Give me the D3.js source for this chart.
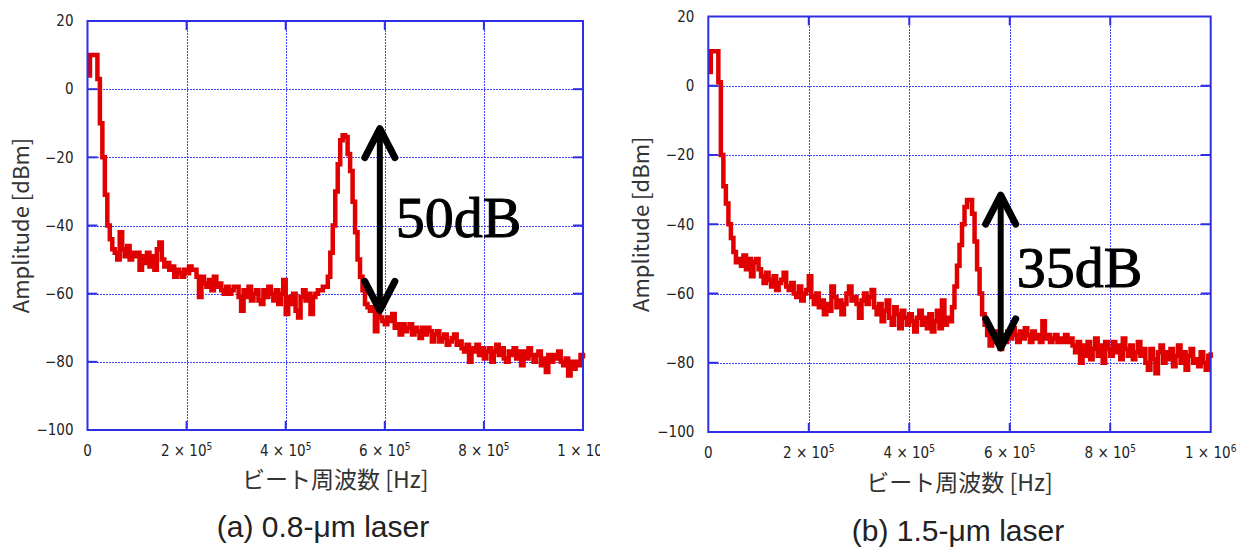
<!DOCTYPE html>
<html>
<head>
<meta charset="utf-8">
<script src="https://cdn.jsdelivr.net/npm/d3@7"></script>
<style>
    body { margin: 0; background: #fff; }
    svg { display: block; }
</style>
</head>
<body>
<svg id="chart" width="1249" height="548"></svg>
<script>
// Frequency grid (Hz): one reading every 5 kHz from 0 to 1 MHz
var freqStep = 5000;

// Amplitude [dBm], 0.8-um laser (20 values per row = 100 kHz)
var amp08 = [
    4, 10, 10, 10, 3, -10, -20, -31, -40, -44, -47, -48, -50, -42, -47, -49, -46, -50, -48, -49,
    -48, -53, -49, -51, -48, -52, -49, -53, -47, -45, -50, -52, -51, -53, -52, -55, -53, -54, -55, -53,
    -54, -52, -53, -53, -55, -61, -55, -57, -58, -56, -59, -55, -58, -57, -59, -60, -58, -60, -59, -58,
    -58, -61, -65, -59, -61, -58, -62, -60, -59, -62, -63, -59, -61, -58, -60, -62, -59, -63, -60, -56,
    -66, -61, -63, -60, -65, -67, -61, -59, -62, -60, -66, -61, -60, -59, -59, -58, -58, -55, -48, -40,
    -30, -22, -15, -13.5, -14, -19, -24, -33, -42, -50, -55, -59, -63, -64, -65, -64, -71, -66, -67, -68,
    -69, -67, -68, -66, -70, -69, -72, -69, -71, -70, -69, -72, -70, -71, -73, -70, -72, -70, -71, -74,
    -72, -71, -74, -73, -72, -75, -74, -73, -72, -75, -74, -76, -77, -75, -80, -76, -77, -75, -78, -76,
    -79, -77, -76, -80, -77, -75, -78, -76, -79, -80, -77, -78, -76, -79, -77, -81, -77, -79, -76, -78,
    -80, -78, -77, -81, -79, -83, -78, -80, -78, -79, -77, -80, -81, -79, -84, -80, -82, -80, -81, -78,
    -79
];

// Amplitude [dBm], 1.5-um laser
var amp15 = [
    4, 10, 10, 10, 1, -20, -29, -34, -40, -44, -48, -51, -50, -52, -49, -53, -50, -55, -51, -50,
    -53, -55, -57, -54, -56, -58, -55, -59, -57, -56, -54, -58, -59, -57, -60, -61, -58, -62, -60, -59,
    -55, -61, -63, -60, -64, -62, -66, -63, -65, -58, -61, -64, -62, -66, -63, -60, -58, -62, -61, -63,
    -67, -62, -60, -63, -61, -59, -64, -66, -63, -68, -65, -62, -67, -69, -64, -66, -70, -65, -67, -69,
    -66, -68, -71, -67, -65, -69, -67, -70, -66, -71, -68, -65, -70, -62, -69, -67, -68, -64, -58, -52,
    -46, -40, -35, -33, -33, -37, -45, -53, -60, -66, -69, -72, -75, -72, -74, -71, -76, -72, -74, -71,
    -73, -70, -72, -74, -71, -73, -70, -72, -74, -71, -73, -72, -74, -68, -73, -72, -74, -73, -72, -74,
    -73, -74, -72, -74, -73, -75, -77, -74, -80, -75, -78, -74, -79, -76, -73, -78, -75, -80, -74, -76,
    -78, -74, -77, -75, -79, -73, -76, -78, -75, -79, -77, -74, -78, -76, -80, -82, -76, -79, -83, -77,
    -75, -80, -77, -79, -76, -81, -78, -75, -80, -77, -82, -78, -76, -80, -79, -81, -77, -80, -82, -78,
    -77
];

// Axis ticks
var yTicks = [20, 0, -20, -40, -60, -80, -100];
var xTicks = [0, 2e5, 4e5, 6e5, 8e5, 1e6];
var xTickMant = ["0", "2", "4", "6", "8", "1"];
var xTickExp = ["", "5", "5", "5", "5", "6"];

// Annotation arrows: frequency, top and bottom (dBm), label and its baseline (dBm)
var arrowFreq = [590e3, 582e3];
var arrowTop = [-11, -31];
var arrowBottom = [-65.5, -76.3];
var arrowLabel = ["50dB", "35dB"];
var arrowLabelY = [-43.3, -58.1];

var captions = ["(a) 0.8-\u03bcm laser", "(b) 1.5-\u03bcm laser"];

// Panel placement
var panels = [
    {data: amp08, left: 87.5, right: 583, top: 21, bottom: 430, clip: [0, 600],
     yTitleX: 21, xTitleY: 488, capX: 323, capY: 537},
    {data: amp15, left: 708.3, right: 1210.7, top: 16.5, bottom: 432, clip: [600, 1249],
     yTitleX: 641, xTitleY: 491, capX: 958, capY: 541}
];

var blue = "#2e2ee6",
    gridBlue = "#4646ff",
    red = "#e00000",
    tickFont = "'Liberation Sans Narrow', 'DejaVu Sans Condensed', 'Liberation Sans', sans-serif",
    titleFont = "'Noto Sans CJK JP', 'Noto Sans', sans-serif";

var svg = d3.select("#chart");
var defs = svg.append("defs");

// snap a coordinate to the pixel centre so 1px dotted lines stay crisp
function px(v) {return Math.round(v) + 0.5;}

panels.forEach(function(p, i) {
    var x = d3.scaleLinear().domain([0, 1e6]).range([p.left, p.right]);
    var y = d3.scaleLinear().domain([-100, 20]).range([p.bottom, p.top]);

    defs.append("clipPath").attr("id", "clip" + i)
        .append("rect")
            .attr("x", p.clip[0]).attr("y", 0)
            .attr("width", p.clip[1] - p.clip[0]).attr("height", 548);

    var g = svg.append("g").attr("clip-path", "url(#clip" + i + ")");

    // dotted grid
    var grid = g.append("g")
        .attr("stroke", gridBlue).attr("stroke-width", 1)
        .attr("stroke-dasharray", "2,1")
        .style("shape-rendering", "crispEdges");
    grid.selectAll("line.gx")
        .data(xTicks.slice(1, -1))
        .enter().append("line")
            .attr("x1", function(d) {return px(x(d));})
            .attr("x2", function(d) {return px(x(d));})
            .attr("y1", p.top).attr("y2", p.bottom);
    grid.selectAll("line.gy")
        .data(yTicks.slice(1, -1))
        .enter().append("line")
            .attr("y1", function(d) {return px(y(d));})
            .attr("y2", function(d) {return px(y(d));})
            .attr("x1", p.left).attr("x2", p.right);

    // inward ticks on all four sides
    var ticks = g.append("g").attr("stroke", blue).attr("stroke-width", 2);
    xTicks.slice(1, -1).forEach(function(d) {
        ticks.append("line").attr("x1", x(d)).attr("x2", x(d)).attr("y1", p.top).attr("y2", p.top + 9);
        ticks.append("line").attr("x1", x(d)).attr("x2", x(d)).attr("y1", p.bottom).attr("y2", p.bottom - 9);
    });
    yTicks.slice(1, -1).forEach(function(d) {
        ticks.append("line").attr("y1", y(d)).attr("y2", y(d)).attr("x1", p.left).attr("x2", p.left + 10);
        ticks.append("line").attr("y1", y(d)).attr("y2", y(d)).attr("x1", p.right).attr("x2", p.right - 10);
    });

    // spectrum trace
    var line = d3.line()
        .x(function(d, k) {return x(k * freqStep);})
        .y(function(d) {return y(d);})
        .curve(d3.curveStepAfter);
    g.append("path")
        .datum(p.data)
        .attr("d", line)
        .attr("fill", "none")
        .attr("stroke", red)
        .attr("stroke-width", 4.5)
        .attr("stroke-linejoin", "miter");

    // frame
    g.append("rect")
        .attr("x", p.left).attr("y", p.top)
        .attr("width", p.right - p.left).attr("height", p.bottom - p.top)
        .attr("fill", "none").attr("stroke", blue).attr("stroke-width", 2);

    // y tick labels
    g.append("g").selectAll("text")
        .data(yTicks)
        .enter().append("text")
            .attr("x", p.left - 14)
            .attr("y", function(d) {return y(d);})
            .attr("dy", "0.35em")
            .attr("text-anchor", "end")
            .style("font-family", tickFont)
            .style("font-size", "15px")
            .attr("fill", "#222")
            .text(function(d) {return d < 0 ? "\u2212" + (-d) : d;});

    // x tick labels
    var xl = g.append("g").selectAll("text")
        .data(xTicks)
        .enter().append("text")
            .attr("x", function(d) {return x(d);})
            .attr("y", p.bottom + 26)
            .attr("text-anchor", "middle")
            .style("font-family", tickFont)
            .style("font-size", "15px")
            .attr("fill", "#222");
    xl.append("tspan").text(function(d, k) {return xTickExp[k] ? xTickMant[k] + " \u00d7 10" : xTickMant[k];});
    xl.append("tspan")
        .attr("dy", -6)
        .style("font-size", "10px")
        .text(function(d, k) {return xTickExp[k];});

    // axis titles
    g.append("text")
        .attr("x", (p.left + p.right) / 2)
        .attr("y", p.xTitleY)
        .attr("text-anchor", "middle")
        .style("font-family", titleFont)
        .style("font-size", "23px")
        .attr("fill", "#333")
        .text("ビート周波数 [Hz]");
    g.append("text")
        .attr("transform", "translate(" + p.yTitleX + "," + ((p.top + p.bottom) / 2) + ") rotate(-90)")
        .attr("dy", "0.35em")
        .attr("text-anchor", "middle")
        .style("font-family", titleFont)
        .style("font-size", "22px")
        .attr("fill", "#333")
        .text("Amplitude [dBm]");

    // double-headed arrow
    var ax = x(arrowFreq[i]), at = y(arrowTop[i]), ab = y(arrowBottom[i]);
    var arr = g.append("g")
        .attr("fill", "none").attr("stroke", "#000")
        .attr("stroke-linecap", "round").attr("stroke-linejoin", "round");
    arr.append("line")
        .attr("x1", ax).attr("x2", ax).attr("y1", at + 3).attr("y2", ab - 3)
        .attr("stroke-width", 6);
    arr.append("path")
        .attr("d", "M" + (ax - 15) + "," + (at + 31) + "L" + ax + "," + (at + 2) + "L" + (ax + 15) + "," + (at + 31))
        .attr("stroke-width", 7);
    arr.append("path")
        .attr("d", "M" + (ax - 15) + "," + (ab - 31) + "L" + ax + "," + (ab - 2) + "L" + (ax + 15) + "," + (ab - 31))
        .attr("stroke-width", 7);

    g.append("text")
        .attr("x", ax + 16)
        .attr("y", y(arrowLabelY[i]))
        .style("font-family", "'Liberation Serif', 'DejaVu Serif', serif")
        .style("font-size", "58px")
        .attr("fill", "#000")
        .attr("stroke", "#000")
        .attr("stroke-width", 1)
        .text(arrowLabel[i]);

    // caption
    svg.append("text")
        .attr("x", p.capX)
        .attr("y", p.capY)
        .attr("text-anchor", "middle")
        .style("font-family", "'Liberation Sans', Arial, sans-serif")
        .style("font-size", "30px")
        .attr("fill", "#222")
        .text(captions[i]);
});
</script>
</body>
</html>
